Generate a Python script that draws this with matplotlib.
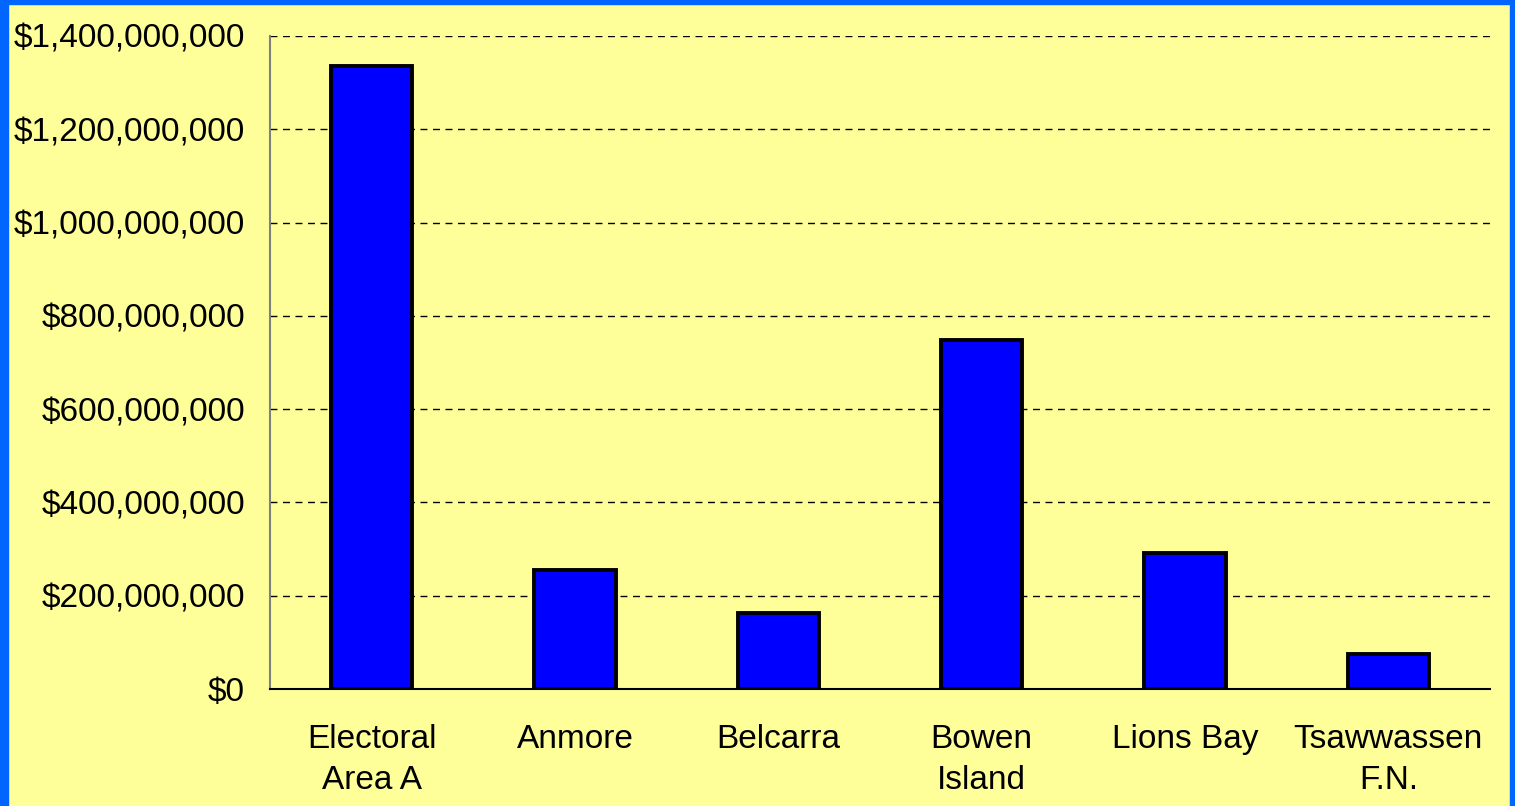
import matplotlib.pyplot as plt
from matplotlib.patches import Rectangle
from matplotlib.ticker import FuncFormatter

plt.rcParams['font.family'] = ['Liberation Sans', 'DejaVu Sans']

# data
areas = ['Electoral\nArea A', 'Anmore', 'Belcarra', 'Bowen\nIsland', 'Lions Bay', 'Tsawwassen\nF.N.']
values = [1336e6, 255e6, 163e6, 748e6, 292e6, 75e6]
y_ticks = [0, 200e6, 400e6, 600e6, 800e6, 1000e6, 1200e6, 1400e6]

bg = '#FFFF99'
fig = plt.figure(figsize=(15.15, 8.06), dpi=100, facecolor=bg)
ax = fig.add_axes([270 / 1515, 1 - 689 / 806, 1220 / 1515, 653 / 806])
ax.set_facecolor(bg)

x = range(len(areas))
ax.bar(x, values, width=0.4, color='#0000FF', edgecolor='black', linewidth=2.8, zorder=3)

ax.set_xlim(-0.5, len(areas) - 0.5)
ax.set_ylim(0, 1400e6)
ax.set_yticks(y_ticks)
ax.yaxis.set_major_formatter(FuncFormatter(lambda v, p: f'${v:,.0f}'))
ax.set_xticks(list(x))
ax.set_xticklabels(areas)
ax.tick_params(axis='both', length=0, labelsize=24, colors='black')
ax.tick_params(axis='x', pad=25.5)
ax.tick_params(axis='y', pad=18)
for lbl in ax.get_xticklabels():
    lbl.set_linespacing(1.42)

ax.grid(axis='y', color='black', linestyle=(0, (5, 4)), linewidth=1, zorder=0)
for s in ['top', 'right']:
    ax.spines[s].set_visible(False)
ax.spines['left'].set_color('#808080')
ax.spines['left'].set_linewidth(1.5)
ax.spines['bottom'].set_color('black')
ax.spines['bottom'].set_linewidth(1.5)

# blue frame round the slide
frame = '#0066FF'
W, H = 1515, 806
fig.patches.append(Rectangle((0, 0), 8 / W, 1, transform=fig.transFigure, color=frame))
fig.patches.append(Rectangle((0, 1 - 4 / H), 1, 4 / H, transform=fig.transFigure, color=frame))
fig.patches.append(Rectangle((1 - 5 / W, 0), 5 / W, 1, transform=fig.transFigure, color=frame))

fig.savefig('out.png', dpi=100, facecolor=bg)
